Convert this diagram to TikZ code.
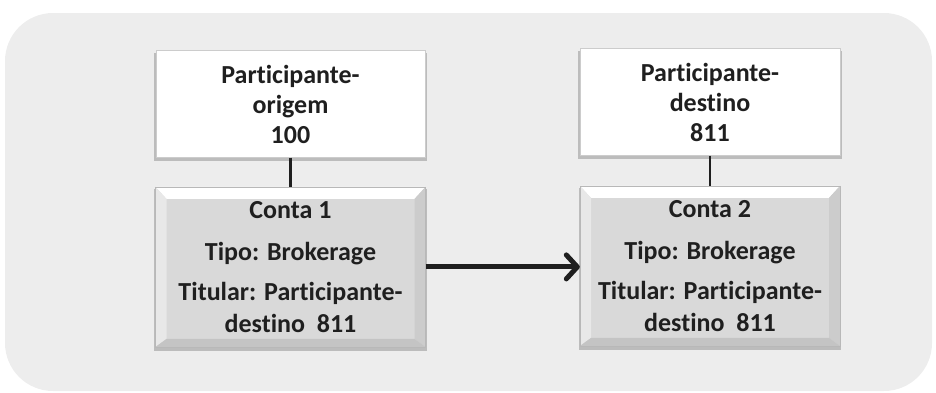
\documentclass[tikz,border=0pt]{standalone}
\usepackage{fontspec}
\setmainfont{Carlito}[Ligatures = NoCommon]
\usetikzlibrary{positioning,arrows.meta,shadows}

\begin{document}
\begin{tikzpicture}[x = 1pt, y = -1pt, line width = 1pt,
    pbox/.style = {draw = black!20, line width = 0.4pt, fill = white, inner sep = 0pt,
                   minimum height = 107pt, align = center, text = black!88,
                   font = \bfseries\fontsize{26}{30}\selectfont,
                   drop shadow = {shadow xshift = 0pt, shadow yshift = -3pt, shadow scale = 1.012,
                                  fill = black!45, opacity = .5}},
    cbox/.style = {draw = black!28, line width = 0.4pt, fill = black!15, inner sep = 0pt,
                   minimum height = 160pt, align = center, text = black!88,
                   font = \bfseries\fontsize{26}{32}\selectfont,
                   drop shadow = {shadow xshift = 0pt, shadow yshift = -3pt, shadow scale = 1.01,
                                  fill = black!45, opacity = .5},
                   path picture = {
                     \fill[white] (path picture bounding box.north west) -- (path picture bounding box.north east)
                       -- ([xshift = -11pt, yshift = -12pt]path picture bounding box.north east)
                       -- ([xshift = 11pt, yshift = -12pt]path picture bounding box.north west) -- cycle;
                     \fill[black!9] (path picture bounding box.north west) -- ([xshift = 11pt, yshift = -12pt]path picture bounding box.north west)
                       -- ([xshift = 11pt, yshift = 8pt]path picture bounding box.south west)
                       -- (path picture bounding box.south west) -- cycle;
                     \fill[black!20] (path picture bounding box.north east) -- ([xshift = -11pt, yshift = -12pt]path picture bounding box.north east)
                       -- ([xshift = -11pt, yshift = 8pt]path picture bounding box.south east)
                       -- (path picture bounding box.south east) -- cycle;
                     \fill[black!23] (path picture bounding box.south west) -- ([xshift = 11pt, yshift = 8pt]path picture bounding box.south west)
                       -- ([xshift = -11pt, yshift = 8pt]path picture bounding box.south east)
                       -- (path picture bounding box.south east) -- cycle;}},
    link/.style = {line width = 2.5pt, draw = black!88}]
      \useasboundingbox (0, 0) rectangle (936, 392);
      \fill [black!7, rounded corners = 48pt] (5, 13) rectangle (932, 391);

      % participantes
      \node [pbox, minimum width = 269pt] (orig) at (290.5, 104){Participante-\\origem\\100};
      \node [pbox, minimum width = 260pt] (dest) at (710, 102){Participante-\\destino\\811};

      % contas
      \node [cbox, minimum width = 270pt, below = 29pt of orig] (conta1)
        {Conta 1\\[10pt]Tipo: Brokerage\\[8pt]Titular: Participante-\\destino~~811};
      \node [cbox, minimum width = 260pt, below = 30pt of dest] (conta2)
        {Conta 2\\[10pt]Tipo: Brokerage\\[8pt]Titular: Participante-\\destino~~811};

      \draw [link] (orig.south) -- (orig.south |- conta1.north);
      \draw [link] (dest.south) -- (dest.south |- conta2.north);
      \draw [line width = 5pt, draw = black!88,
             -{Straight Barb[length = 11pt, width = 24pt, line cap = round, line join = round]}]
            (conta1.east) -- (conta1.east -| conta2.west);

      \end{tikzpicture}
\end{document}
